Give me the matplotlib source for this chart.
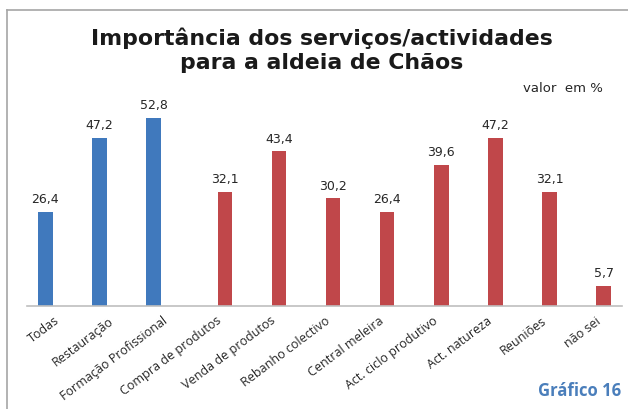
import numpy as np
import matplotlib.pyplot as plt
from matplotlib.lines import Line2D

# Data (valor em %)
categorias = ['Todas', 'Restauração', 'Formação Profissional', 'Compra de produtos',
              'Venda de produtos', 'Rebanho colectivo', 'Central meleira',
              'Act. ciclo produtivo', 'Act. natureza', 'Reuniões', 'não sei']
valores_azul = [26.4, 47.2, 52.8, None, None, None, None, None, None, None, None]
valores_vermelho = [None, None, None, 32.1, 43.4, 30.2, 26.4, 39.6, 47.2, 32.1, 5.7]

AZUL = '#4079bd'
VERMELHO = '#c0474a'
FONT = 'Open Sans'
FONT_NUM = 'DejaVu Sans'

fig = plt.figure(figsize=(6.28, 4.09), dpi=100)
W, H = 628, 409

# chart border (left and top edges visible)
fig.add_artist(Line2D([7 / W, 7 / W], [0, 1 - 10 / H], color='#a6a6a6', lw=1.2,
                      transform=fig.transFigure))
fig.add_artist(Line2D([7 / W, 1], [1 - 10 / H, 1 - 10 / H], color='#a6a6a6', lw=1.2,
                      transform=fig.transFigure))

ax = fig.add_axes([27 / W, 1 - 306 / H, 595 / W, 214 / H])

x = np.arange(len(categorias)) + 0.5
largura = 0.266
off = 0.16

for i, v in enumerate(valores_azul):
    if v is not None:
        ax.bar(x[i] - off, v, width=largura, color=AZUL)
        ax.text(x[i] - off, v + 1.6, f'{v:.1f}'.replace('.', ','), ha='center', va='bottom',
                fontsize=9, color='#262626', family=FONT_NUM)
for i, v in enumerate(valores_vermelho):
    if v is not None:
        ax.bar(x[i] + off, v, width=largura, color=VERMELHO)
        ax.text(x[i] + off, v + 1.6, f'{v:.1f}'.replace('.', ','), ha='center', va='bottom',
                fontsize=9, color='#262626', family=FONT_NUM)

ax.set_xlim(0, len(categorias))
ax.set_ylim(0, 60)
ax.set_xticks(x)
ax.set_xticklabels(categorias, rotation=37, ha='right', rotation_mode='anchor',
                   fontsize=9, family=FONT, color='#262626')
ax.tick_params(axis='x', length=0, pad=6)
ax.set_yticks([])
for s in ['left', 'right', 'top']:
    ax.spines[s].set_visible(False)
ax.spines['bottom'].set_color('#bfbfbf')
ax.spines['bottom'].set_linewidth(1.2)

cx = 322 / W
fig.text(cx, 1 - 38 / H, 'Importância dos serviços/actividades',
         ha='center', va='center', fontsize=15.8, fontweight='bold', family=FONT_NUM, color='#1a1a1a')
fig.text(cx, 1 - 63 / H, 'para a aldeia de Chãos',
         ha='center', va='center', fontsize=15.8, fontweight='bold', family=FONT_NUM, color='#1a1a1a')
fig.text(603 / W, 1 - 89 / H, 'valor  em %', ha='right', va='center', fontsize=9.5,
         family=FONT_NUM, color='#262626')
fig.text(621 / W, 1 - 391 / H, 'Gráfico 16', ha='right', va='center', fontsize=12,
         fontweight='bold', family=FONT, color='#4a7ebb')

fig.savefig('out.png', dpi=100)
